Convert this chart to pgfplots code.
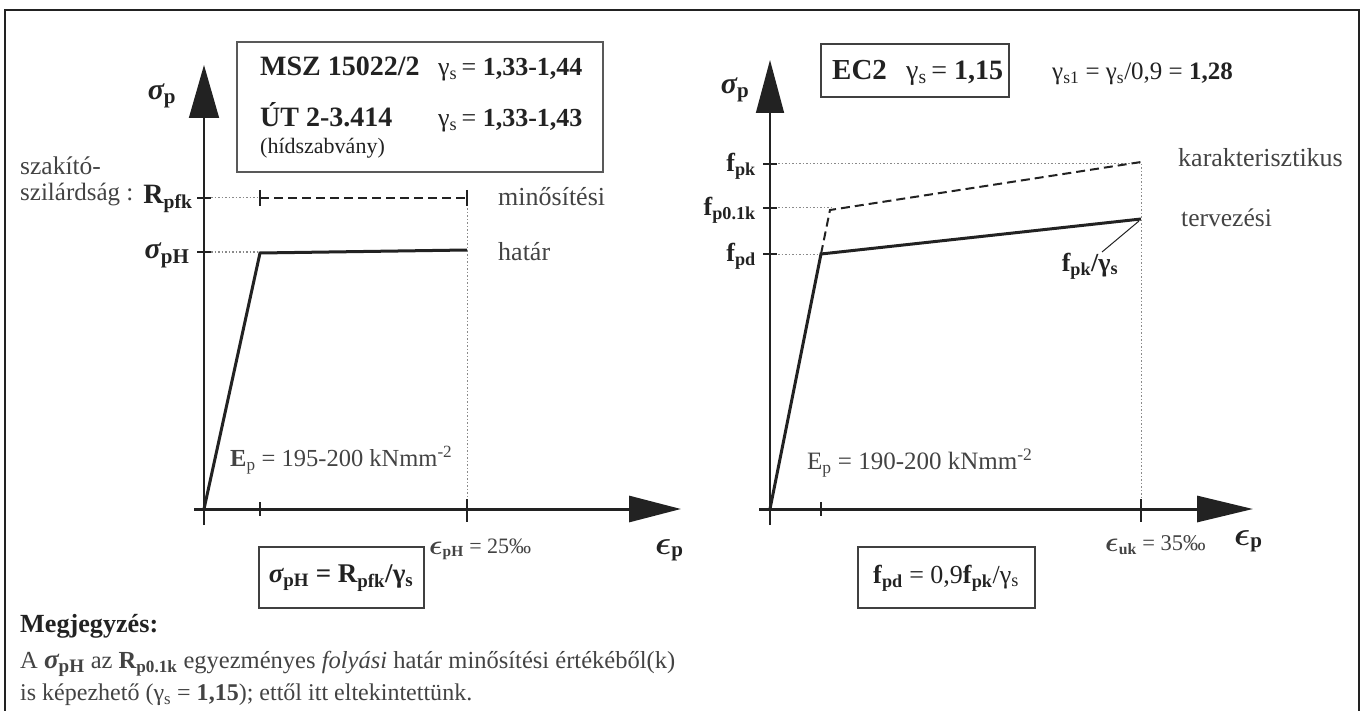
\documentclass[border=0pt]{standalone}
\usepackage{amsmath}
\usepackage{graphicx}
\usepackage{pgfplots}
\pgfplotsset{compat=1.18}
\usetikzlibrary{arrows.meta}
\usepackage{fontspec}
\setmainfont{Liberation Serif}
\newcommand{\fs}[1]{\fontsize{#1}{#1}\selectfont}
\newcommand{\eps}{\raisebox{-0.05em}{\scalebox{1.35}{$\boldsymbol{\epsilon}$}}}
\definecolor{ink}{HTML}{222222}
\definecolor{dotc}{HTML}{8A8A8A}
\begin{document}
\begin{tikzpicture}
\begin{axis}[scale only axis, width=1364pt, height=711pt,
  xmin=0, xmax=1364, ymin=0, ymax=711, y dir=reverse,
  hide axis, clip=false]
% frame
\addplot[draw=ink, line width=2pt] coordinates {(5,715) (5,10) (1359,10) (1359,715)};
% ---------- LEFT DIAGRAM ----------
% dotted guides
\addplot[draw=dotc, line width=1pt, dash pattern=on 1.5pt off 2pt] coordinates {(204,198) (260,198)};
\addplot[draw=dotc, line width=1pt, dash pattern=on 1.5pt off 2pt] coordinates {(204,252) (260,252)};
\addplot[draw=dotc, line width=1pt, dash pattern=on 1.5pt off 2pt] coordinates {(467,198) (467,509)};
% axes
\addplot[draw=ink, line width=1.6pt, -{Triangle[length=53pt,width=30pt]}] coordinates {(204,525) (204,65)};
\addplot[draw=ink, line width=3pt, -{Triangle[length=52pt,width=26pt]}] coordinates {(194,509) (681,509)};
% ticks
\addplot[draw=ink, line width=1.5pt] coordinates {(260,502) (260,516)};
\addplot[draw=ink, line width=1.5pt] coordinates {(467,499) (467,522)};
\addplot[draw=ink, line width=1.5pt] coordinates {(204,509) (204,522)};
\addplot[draw=ink, line width=1.5pt] coordinates {(197,198) (211,198)};
\addplot[draw=ink, line width=1.5pt] coordinates {(197,252) (211,252)};
% curves
\addplot[draw=ink, line width=3pt] coordinates {(204,509) (260,253) (467,250)};
\addplot[draw=ink, line width=2pt, dash pattern=on 9pt off 5pt] coordinates {(260,198) (467,198)};
\addplot[draw=ink, line width=1.5pt] coordinates {(260,190) (260,206)};
\addplot[draw=ink, line width=1.5pt] coordinates {(467,190) (467,206)};
% top box
\draw[draw=black!65, line width=2pt] (axis cs:237,42) rectangle (axis cs:603,172);
\node[anchor=base west, inner sep=0, text=ink] at (axis cs:260,76) {\fs{28}\bfseries MSZ 15022/2};
\node[anchor=base west, inner sep=0, text=ink] at (axis cs:438,76) {\fs{26}γ\textsubscript{s}\,= \bfseries 1,33-1,44};
\node[anchor=base west, inner sep=0, text=ink] at (axis cs:260,127) {\fs{28}\bfseries ÚT 2-3.414};
\node[anchor=base west, inner sep=0, text=ink] at (axis cs:438,127) {\fs{26}γ\textsubscript{s}\,= \bfseries 1,33-1,43};
\node[anchor=west, inner sep=0, text=ink] at (axis cs:260,148) {\fs{22}(hídszabvány)};
% labels
\node[inner sep=0, text=ink] at (axis cs:162,96) {\fs{30}\bfseries\itshape σ\textsubscript{\upshape p}};
\node[anchor=west, inner sep=0, text=ink!85] at (axis cs:20,166) {\fs{25.5}szakító-};
\node[anchor=west, inner sep=0, text=ink!85] at (axis cs:20,195) {\fs{25}szilárdság :};
\node[inner sep=0, text=ink] at (axis cs:168,199) {\fs{28}\bfseries R\textsubscript{pfk}};
\node[inner sep=0, text=ink] at (axis cs:167,255) {\fs{30}\bfseries{\itshape σ}\textsubscript{pH}};
\node[anchor=west, inner sep=0, text=ink!85] at (axis cs:498,197) {\fs{26}minősítési};
\node[anchor=west, inner sep=0, text=ink!85] at (axis cs:498,252) {\fs{26}határ};
\node[anchor=west, inner sep=0, text=ink!85] at (axis cs:230,460) {\fs{24.5}\textbf{E}\textsubscript{p} = 195-200 kNmm\textsuperscript{-2}};
\node[anchor=west, inner sep=0, text=ink!85] at (axis cs:429,549) {\fs{22}\eps\textsubscript{\bfseries pH} = 25‰};
\node[anchor=west, inner sep=0, text=ink] at (axis cs:655,550) {\fs{30}\eps\textsubscript{\bfseries p}};
\draw[draw=black!75, line width=2pt] (axis cs:259,547) rectangle (axis cs:424,608);
\node[inner sep=0, text=ink] at (axis cs:341,578) {\fs{27}\bfseries{\itshape σ}\textsubscript{pH} = R\textsubscript{pfk}/γ\textsubscript{s}};
% ---------- RIGHT DIAGRAM ----------
\addplot[draw=dotc, line width=1pt, dash pattern=on 1.5pt off 2pt] coordinates {(771,164) (1141,164)};
\addplot[draw=dotc, line width=1pt, dash pattern=on 1.5pt off 2pt] coordinates {(771,208) (832,208)};
\addplot[draw=dotc, line width=1pt, dash pattern=on 1.5pt off 2pt] coordinates {(771,254) (821,254)};
\addplot[draw=dotc, line width=1pt, dash pattern=on 1.5pt off 2pt] coordinates {(1141,164) (1141,509)};
\addplot[draw=ink, line width=1.6pt, -{Triangle[length=53pt,width=28pt]}] coordinates {(770,525) (770,60)};
\addplot[draw=ink, line width=3pt, -{Triangle[length=56pt,width=26pt]}] coordinates {(759,509) (1253,509)};
\addplot[draw=ink, line width=1.5pt] coordinates {(821,502) (821,516)};
\addplot[draw=ink, line width=1.5pt] coordinates {(1141,499) (1141,522)};
\addplot[draw=ink, line width=1.5pt] coordinates {(770,509) (770,525)};
\addplot[draw=ink, line width=1.5pt] coordinates {(763,164) (777,164)};
\addplot[draw=ink, line width=1.5pt] coordinates {(763,208) (777,208)};
\addplot[draw=ink, line width=1.5pt] coordinates {(763,254) (777,254)};
\addplot[draw=ink, line width=3pt] coordinates {(770,509) (821,254) (1141,219)};
\addplot[draw=ink, line width=2pt, dash pattern=on 9pt off 5pt] coordinates {(821,254) (830,210) (1141,162)};
\addplot[draw=ink, line width=1pt] coordinates {(1102,252) (1139,221)};
\draw[draw=black!75, line width=2pt] (axis cs:821,44) rectangle (axis cs:1009,97);
\node[anchor=base west, inner sep=0, text=ink] at (axis cs:832,80) {\fs{29}\bfseries EC2};
\node[anchor=base west, inner sep=0, text=ink] at (axis cs:906,80) {\fs{28}γ\textsubscript{s}\,= \bfseries 1,15};
\node[anchor=base west, inner sep=0, text=ink] at (axis cs:1052,80) {\fs{25}γ\textsubscript{s1} = γ\textsubscript{s}/0,9 = \textbf{1,28}};
\node[inner sep=0, text=ink] at (axis cs:735,90) {\fs{30}\bfseries\itshape σ\textsubscript{\upshape p}};
\node[anchor=east, inner sep=0, text=ink] at (axis cs:756,166) {\fs{26}\bfseries f\textsubscript{pk}};
\node[anchor=east, inner sep=0, text=ink] at (axis cs:756,210) {\fs{26}\bfseries f\textsubscript{p0.1k}};
\node[anchor=east, inner sep=0, text=ink] at (axis cs:756,256) {\fs{26}\bfseries f\textsubscript{pd}};
\node[anchor=west, inner sep=0, text=ink!85] at (axis cs:1178,158) {\fs{26}karakterisztikus};
\node[anchor=west, inner sep=0, text=ink!85] at (axis cs:1181,218) {\fs{25.5}tervezési};
\node[inner sep=0, text=ink] at (axis cs:1090,266) {\fs{26}\bfseries f\textsubscript{pk}/γ\textsubscript{s}};
\node[anchor=west, inner sep=0, text=ink!85] at (axis cs:807,463) {\fs{25}E\textsubscript{p} = 190-200 kNmm\textsuperscript{-2}};
\node[anchor=west, inner sep=0, text=ink!85] at (axis cs:1105,545) {\fs{22.5}\eps\textsubscript{\bfseries uk} = 35‰};
\node[anchor=west, inner sep=0, text=ink] at (axis cs:1234,541) {\fs{30}\eps\textsubscript{\bfseries p}};
\draw[draw=black!75, line width=2pt] (axis cs:858,547) rectangle (axis cs:1035,608);
\node[inner sep=0, text=ink] at (axis cs:946,578) {\fs{26}\textbf{f}\textsubscript{\bfseries pd} = 0,9\textbf{f}\textsubscript{\bfseries pk}/γ\textsubscript{s}};
% ---------- NOTE ----------
\node[anchor=west, inner sep=0, text=ink] at (axis cs:20,626) {\resizebox{138pt}{!}{\fs{26}\bfseries Megjegyzés:}};
\node[anchor=west, inner sep=0, text=ink!85] at (axis cs:20,664) {\resizebox{655pt}{!}{\fs{27}A \textbf{\fs{30}{\itshape σ}\textsubscript{pH}} az \textbf{R\textsubscript{p0.1k}} egyezményes \textit{folyási} határ minősítési értékéből(k)}};
\node[anchor=west, inner sep=0, text=ink!85] at (axis cs:20,695) {\resizebox{452pt}{!}{\fs{25}is képezhető (γ\textsubscript{s} = \textbf{1,15}); ettől itt eltekintettünk.}};
\end{axis}
\pgfresetboundingbox
\path (0,0) rectangle (1364pt,711pt);
\end{tikzpicture}
\end{document}
